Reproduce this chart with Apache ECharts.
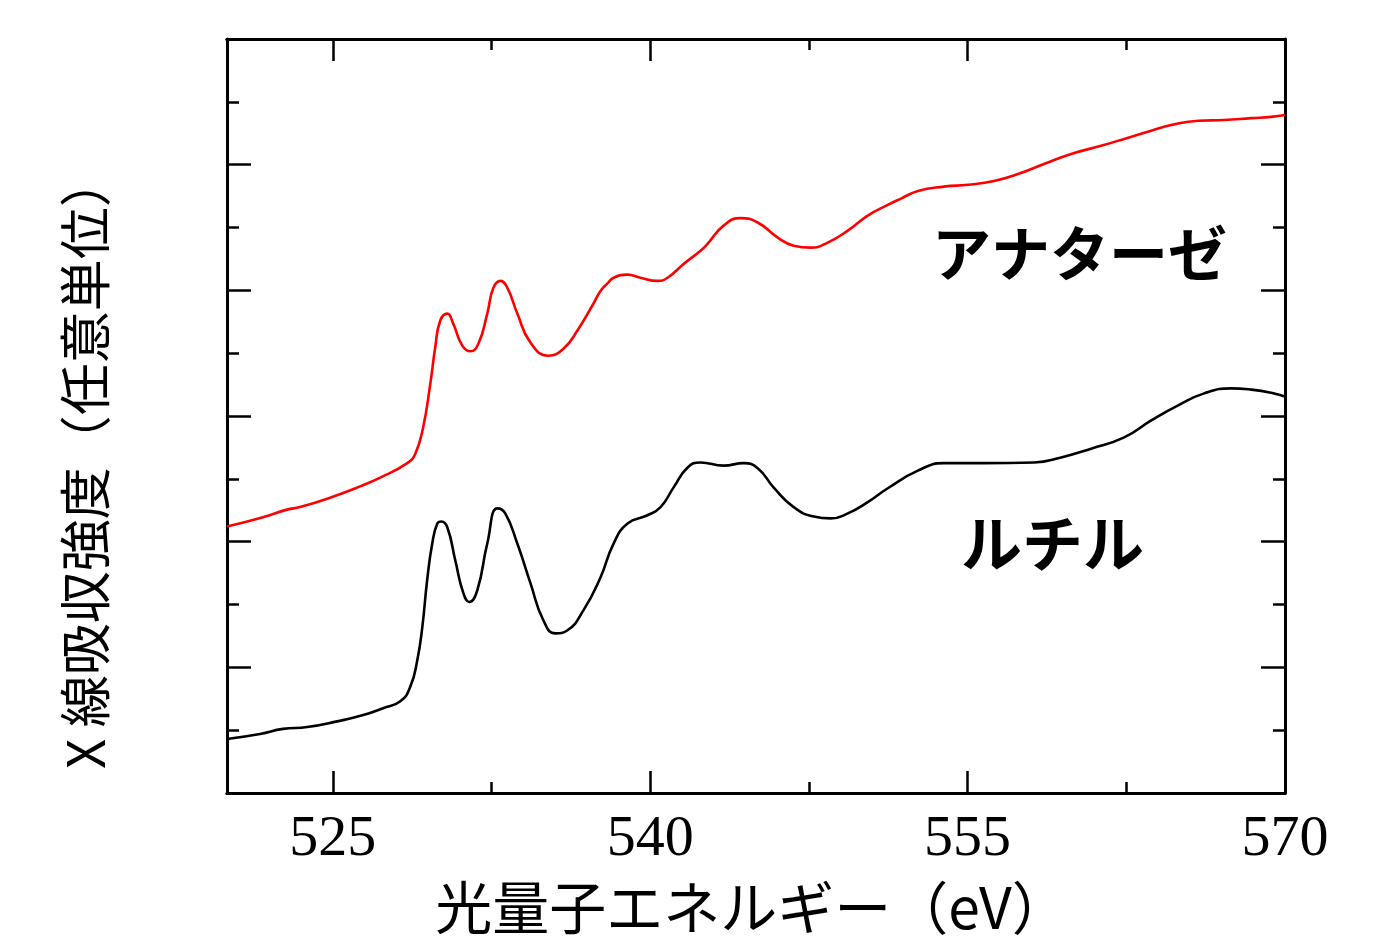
<!DOCTYPE html>
<html>
<head>
<meta charset="utf-8">
<script src="https://cdn.jsdelivr.net/npm/echarts@6/dist/echarts.min.js"></script>
<style>
html,body{margin:0;padding:0;background:#fff;}
#chart{width:1387px;height:938px;}
</style>
</head>
<body>
<div id="chart"></div>
<script>
// Photon energy (eV) and absorption intensity (arbitrary units)
const anataseX = [520.00,521.70,522.84,523.45,524.87,526.29,527.24,528.52,528.90,529.27,529.61,529.84,530.08,530.41,530.69,531.12,531.50,531.88,532.30,532.59,532.92,533.25,533.72,534.34,535.19,535.90,536.56,537.32,537.65,537.98,538.27,538.93,539.54,540.35,540.82,541.58,542.38,542.71,543.47,544.27,545.08,546.03,546.78,547.59,548.39,549.34,550.28,551.23,551.85,552.65,553.88,555.02,556.25,557.38,558.61,559.89,561.31,562.59,563.68,564.62,565.90,567.13,568.41,569.35,570.00];
const anataseY = [4.24,4.39,4.51,4.55,4.70,4.88,5.02,5.25,5.40,5.82,6.52,7.09,7.52,7.63,7.47,7.12,7.03,7.15,7.63,8.04,8.15,8.04,7.63,7.17,6.96,7.07,7.36,7.79,7.99,8.11,8.20,8.25,8.20,8.15,8.20,8.42,8.63,8.74,9.03,9.15,9.08,8.84,8.71,8.68,8.76,8.95,9.19,9.36,9.46,9.58,9.65,9.68,9.74,9.85,10.01,10.17,10.30,10.43,10.54,10.63,10.70,10.71,10.74,10.76,10.79];

const rutileX = [520.00,521.56,522.65,523.79,525.21,526.44,527.38,528.19,528.66,528.99,529.23,529.46,529.70,529.94,530.13,530.41,530.79,531.17,531.45,531.83,532.30,532.78,533.15,533.72,534.34,534.95,535.52,536.09,536.85,537.65,538.27,538.93,539.87,540.49,541.10,541.77,542.38,543.47,544.42,545.08,545.84,546.78,547.73,548.53,549.34,550.28,551.23,552.65,553.88,555.77,558.14,559.42,560.84,562.40,563.68,564.95,566.18,567.46,568.41,569.35,570.00];
const rutileY = [0.86,0.94,1.02,1.05,1.14,1.24,1.35,1.46,1.69,2.11,2.64,3.39,3.97,4.29,4.32,4.23,3.70,3.18,3.04,3.23,3.97,4.53,4.45,3.97,3.34,2.75,2.54,2.59,2.91,3.43,3.97,4.29,4.42,4.55,4.86,5.18,5.26,5.21,5.25,5.17,4.86,4.55,4.40,4.37,4.45,4.63,4.85,5.13,5.25,5.25,5.26,5.34,5.48,5.66,5.93,6.17,6.36,6.44,6.42,6.37,6.31];

const xLabelValues = [525, 540, 555, 570];
const xMajorTicks = [525, 540, 555];
const xMinorTicks = [532.5, 547.5, 562.5];

const seriesNames = ['アナターゼ', 'ルチル'];
const xAxisTitle = '光量子エネルギー（eV）';
const yAxisTitle = 'X 線吸収強度（任意単位）';

function zip(xs, ys){ return xs.map((x,i)=>[x, ys[i]]); }

const chart = echarts.init(document.getElementById('chart'));
const lineW = 3;
function xAxisDef(pos, ticks, len, withLabels){
  return {
    type:'value', position:pos, min:520, max:570,
    axisLine:{show:true, onZero:false, lineStyle:{color:'#000', width:lineW}},
    axisTick:{show:true, inside:true, length:len, customValues:ticks, lineStyle:{color:'#000', width:2.5}},
    axisLabel: withLabels ? {show:true, customValues:xLabelValues, margin:18, color:'#000', fontFamily:'Liberation Serif', fontSize:58} : {show:false},
    splitLine:{show:false}
  };
}
function yAxisDef(pos){
  return {
    type:'value', position:pos, min:0, max:12, interval:2,
    axisLine:{show:true, onZero:false, lineStyle:{color:'#000', width:lineW}},
    axisTick:{show:true, inside:true, length:24, lineStyle:{color:'#000', width:2.5}},
    minorTick:{show:true, splitNumber:2, length:12, lineStyle:{color:'#000', width:2.5}},
    axisLabel:{show:false},
    splitLine:{show:false}
  };
}

const xAxes = [
  xAxisDef('bottom', xMajorTicks, 22, true),
  xAxisDef('bottom', xMinorTicks, 11, false),
  xAxisDef('top', xMajorTicks, 22, false),
  xAxisDef('top', xMinorTicks, 11, false)
];
xAxes[0].name = xAxisTitle;
xAxes[0].nameLocation = 'middle';
xAxes[0].nameGap = 86;
xAxes[0].nameTextStyle = {color:'#000', fontFamily:'Noto Sans CJK JP', fontSize:57, padding:[0,8,0,0]};

const yAxes = [yAxisDef('left'), yAxisDef('right')];
yAxes[0].name = yAxisTitle;
yAxes[0].nameLocation = 'middle';
yAxes[0].nameGap = 116;
yAxes[0].nameTextStyle = {color:'#000', fontFamily:'Noto Sans CJK JP', fontSize:52, padding:[0,92,0,0]};

chart.setOption({
  animation:false,
  backgroundColor:'#fff',
  grid:{left:227, right:102, top:39, bottom:145, containLabel:false, outerBoundsMode:'none'},
  xAxis:xAxes,
  yAxis:yAxes,
  series:[
    {name:seriesNames[0], type:'line', xAxisIndex:0, yAxisIndex:0, data:zip(anataseX, anataseY),
     showSymbol:false, smooth:0.5, lineStyle:{color:'#ff0000', width:2.6}},
    {name:seriesNames[1], type:'line', xAxisIndex:0, yAxisIndex:0, data:zip(rutileX, rutileY),
     showSymbol:false, smooth:0.5, lineStyle:{color:'#000000', width:2.6}}
  ],
  graphic:[
    {type:'text', left:932, top:224, style:{text:seriesNames[0], fill:'#000', font:'bold 59px "Noto Sans CJK JP"'}},
    {type:'text', left:961, top:513, style:{text:seriesNames[1], fill:'#000', font:'bold 61px "Noto Sans CJK JP"'}}
  ]
});
</script>
</body>
</html>
